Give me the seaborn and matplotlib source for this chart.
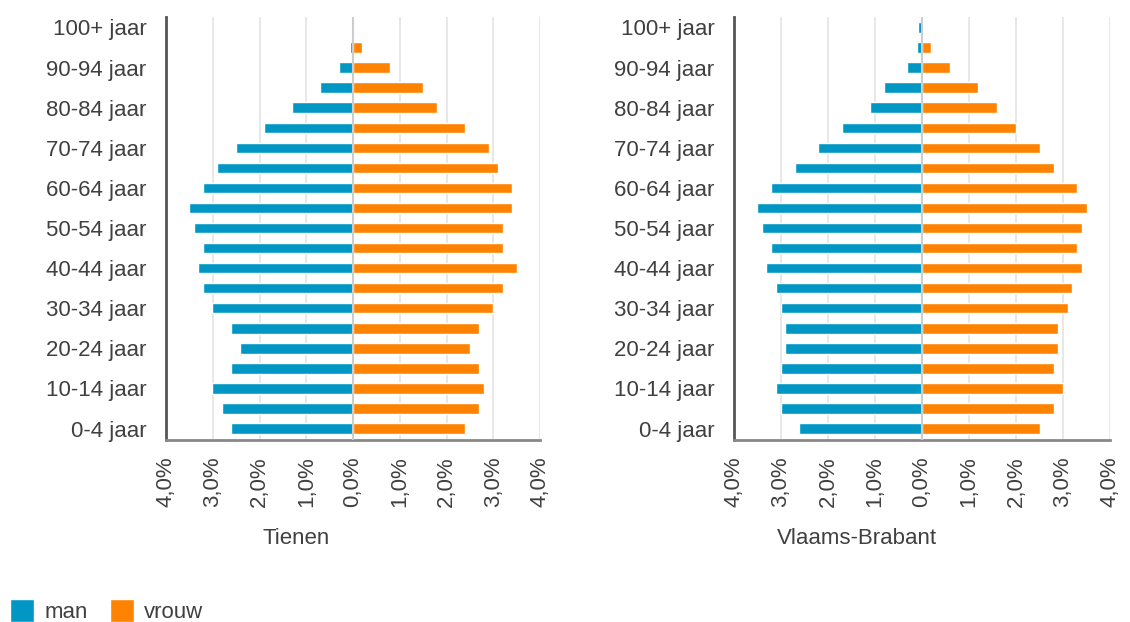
import pandas as pd
import seaborn as sns
import matplotlib.pyplot as plt
from matplotlib.patches import Patch

# leeftijdsgroepen, van oud naar jong (bovenaan eerst)
ages = ["100+ jaar", "95-99 jaar", "90-94 jaar", "85-89 jaar", "80-84 jaar", "75-79 jaar",
        "70-74 jaar", "65-69 jaar", "60-64 jaar", "55-59 jaar", "50-54 jaar", "45-49 jaar",
        "40-44 jaar", "35-39 jaar", "30-34 jaar", "25-29 jaar", "20-24 jaar", "15-19 jaar",
        "10-14 jaar", "5-9 jaar", "0-4 jaar"]

# aandeel in % van de bevolking
tienen_man = [0.0, 0.06, 0.31, 0.7, 1.3, 1.91, 2.51, 2.91, 3.21, 3.51, 3.41, 3.21,
              3.31, 3.21, 3.01, 2.61, 2.41, 2.61, 3.01, 2.81, 2.61]
tienen_vrouw = [0.0, 0.2, 0.8, 1.5, 1.8, 2.4, 2.9, 3.11, 3.41, 3.41, 3.2, 3.2,
                3.51, 3.2, 3.0, 2.7, 2.5, 2.7, 2.8, 2.7, 2.4]
vb_man = [0.08, 0.11, 0.31, 0.81, 1.11, 1.71, 2.21, 2.71, 3.21, 3.51, 3.41, 3.21,
          3.31, 3.11, 3.01, 2.91, 2.91, 3.01, 3.11, 3.01, 2.61]
vb_vrouw = [0.01, 0.19, 0.59, 1.19, 1.59, 1.99, 2.5, 2.8, 3.3, 3.5, 3.4, 3.3,
            3.4, 3.2, 3.1, 2.9, 2.9, 2.8, 3.0, 2.8, 2.5]

titles = ["Tienen", "Vlaams-Brabant"]
ticks = [-4, -3, -2, -1, 0, 1, 2, 3, 4]

BLUE = "#0097c4"
ORANGE = "#ff8300"
TEXT = "#404040"

sns.set_theme(style="white")
plt.rcParams['font.family'] = ['Liberation Sans', 'DejaVu Sans']


def make_df(man, vrouw):
    rows = []
    for a, m, v in zip(ages, man, vrouw):
        rows.append({"age": a, "sex": "man", "value": -m})
        rows.append({"age": a, "sex": "vrouw", "value": v})
    return pd.DataFrame(rows)


fig = plt.figure(figsize=(11.3, 6.22), dpi=100)
ax_left = fig.add_axes([0.1469, 0.2926, 0.331, 0.680])
ax_right = fig.add_axes([0.6496, 0.2926, 0.3327, 0.680])

datasets = [(tienen_man, tienen_vrouw), (vb_man, vb_vrouw)]
title_x = [0.262, 0.758]

for ax, (man, vrouw), title, tx in zip([ax_left, ax_right], datasets, titles, title_x):
    df = make_df(man, vrouw)
    sns.barplot(data=df, x="value", y="age", hue="sex", order=ages,
                hue_order=["man", "vrouw"], palette=[BLUE, ORANGE],
                dodge=False, width=0.52, orient="h", errorbar=None,
                saturation=1, legend=False, ax=ax)

    ax.set_xlim(-4, 4)
    ax.set_ylim(20.57, -0.52)
    ax.set_xticks(ticks)
    ax.set_xticklabels([f"{abs(t):.1f}%".replace(".", ",") for t in ticks],
                       rotation=90, fontsize=16, color=TEXT)
    ax.set_yticks(range(len(ages)))
    ax.set_yticklabels([a if i % 2 == 0 else "" for i, a in enumerate(ages)],
                       fontsize=16, color=TEXT)
    ax.tick_params(axis="x", length=0, pad=12)
    ax.tick_params(axis="y", length=0, pad=14)
    ax.set_xlabel("")
    ax.set_ylabel("")

    # rasterlijnen en nullijn
    ax.grid(axis="x", color="#e6e6e6", linewidth=1.3)
    ax.set_axisbelow(True)
    ax.axvline(0, color="#cccccc", linewidth=1.5, zorder=3)

    for s in ["top", "right"]:
        ax.spines[s].set_visible(False)
    ax.spines["left"].set_color("#555555")
    ax.spines["left"].set_linewidth(2)
    ax.spines["bottom"].set_color("#888888")
    ax.spines["bottom"].set_linewidth(2)

    fig.text(tx, 0.135, title, ha="center", va="center", fontsize=16, color=TEXT)

handles = [Patch(facecolor=BLUE, label="man"), Patch(facecolor=ORANGE, label="vrouw")]
fig.legend(handles=handles, loc="lower left", bbox_to_anchor=(-0.009, -0.034), ncol=2,
           frameon=False, fontsize=16, handlelength=1.1, handleheight=1.2,
           handletextpad=0.45, columnspacing=1.0, labelcolor=TEXT)

fig.savefig("out.png", dpi=100)
